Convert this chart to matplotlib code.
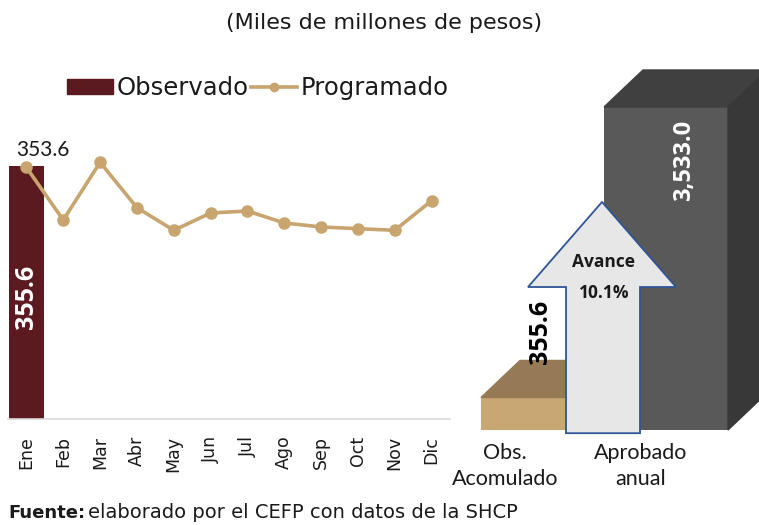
import matplotlib
matplotlib.use("Agg")
import matplotlib.pyplot as plt
from matplotlib.patches import Polygon, Patch
from matplotlib.lines import Line2D

# datos (miles de millones de pesos)
meses = ["Ene", "Feb", "Mar", "Abr", "May", "Jun", "Jul", "Ago", "Sep", "Oct", "Nov", "Dic"]
programado = [353.6, 279.7, 360.8, 297.0, 265.2, 289.5, 292.3, 275.5, 269.9, 267.5, 265.2, 306.8]
observado = [355.6]          # solo enero
obs_acumulado = 355.6
aprobado_anual = 3533.0

ROJO = "#5A1A1F"
ARENA = "#C8A46E"
TXT = "#1a1a1a"

fig = plt.figure(figsize=(7.59, 5.25), dpi=100)

fig.text(384 / 759, 1 - 23 / 525, "(Miles de millones de pesos)", ha="center", va="center",
         fontsize=16, color=TXT, family="DejaVu Sans")

# ---- panel izquierdo: mensual ----
ax = fig.add_axes([8 / 759, (525 - 419) / 525, 442 / 759, 284.6 / 525])
x = list(range(len(meses)))
ax.bar(x[:len(observado)], observado, width=0.93, color=ROJO, zorder=1)
ax.plot(x, programado, color=ARENA, lw=2.6, marker="o", ms=8, zorder=3)
ax.set_xlim(-0.5, 11.5)
ax.set_ylim(0, 400)
ax.set_yticks([])
for s in ["top", "right", "left"]:
    ax.spines[s].set_visible(False)
ax.spines["bottom"].set_color("#D9D9D9")
ax.spines["bottom"].set_linewidth(1.2)
ax.set_xticks(x)
ax.set_xticklabels(meses, rotation=90, fontsize=12.5, color=TXT, family="DejaVu Sans")
ax.tick_params(axis="x", length=0, pad=12)
ax.text(0, observado[0] / 2 - 6, f"{observado[0]:.1f}", rotation=90, ha="center", va="center",
        color="white", fontsize=18, fontweight="bold", family="Open Sans")
ax.text(0.45, programado[0] + 10, f"{programado[0]:.1f}", ha="center", va="bottom",
        fontsize=15, color=TXT, family="Lato")

handles = [Patch(facecolor=ROJO, edgecolor=ROJO),
           Line2D([0], [0], color=ARENA, lw=2.6, marker="o", ms=6)]
fig.legend(handles, ["Observado", "Programado"], loc="center", ncol=2,
           bbox_to_anchor=(258 / 759, 1 - 88 / 525), frameon=False,
           prop={"family": "DejaVu Sans", "size": 17.5}, handlelength=1.9,
           handleheight=0.6, handletextpad=0.15, columnspacing=0.1, labelcolor=TXT)

# ---- panel derecho: avance anual (barras con relieve) ----
axr = fig.add_axes([470 / 759, (525 - 430) / 525, 289 / 759, 390 / 525])
axr.set_xlim(470, 759)
axr.set_ylim(0, 4266)
axr.axis("off")
dx, dy = 39, 405


def barra(x0, w, h, cfront, ctop, cside):
    axr.bar(x0, h, width=w, align="edge", color=cfront, zorder=1)
    axr.add_patch(Polygon([(x0, h), (x0 + w, h), (x0 + w + dx, h + dy), (x0 + dx, h + dy)],
                          closed=True, color=ctop, zorder=1, clip_on=False))
    axr.add_patch(Polygon([(x0 + w, 0), (x0 + w + dx, dy), (x0 + w + dx, h + dy), (x0 + w, h)],
                          closed=True, color=cside, zorder=1, clip_on=False))


barra(481, 123, obs_acumulado, "#C9A772", "#957A55", "#8a7050")
barra(604, 124, aprobado_anual, "#595959", "#404040", "#383838")

flecha = [(566, -35), (640, -35), (640, 1564), (676, 1564), (602, 2494), (528, 1564), (566, 1564)]
axr.add_patch(Polygon(flecha, closed=True, facecolor="#E7E7E7", edgecolor="#2F5597",
                      lw=1.3, zorder=3, clip_on=False))
avance = obs_acumulado / aprobado_anual * 100
axr.text(604, 1840, "Avance", ha="center", va="center", fontsize=12.5, fontweight="bold",
         color=TXT, family="Open Sans", zorder=4)
axr.text(604, 1500, f"{avance:.1f}%", ha="center", va="center", fontsize=12.5,
         fontweight="bold", color=TXT, family="Open Sans", zorder=4)
axr.text(540, 1072, f"{obs_acumulado:.1f}", rotation=90, ha="center", va="center",
         fontsize=18, fontweight="bold", color="black", family="Open Sans", zorder=4)
axr.text(684, 2953, f"{aprobado_anual:,.1f}", rotation=90, ha="center", va="center",
         fontsize=17, fontweight="bold", color="white", family="Open Sans", zorder=4)

for cx, lab in [(505, "Obs.\nAcomulado"), (641, "Aprobado\nanual")]:
    fig.text(cx / 759, 1 - 466 / 525, lab, ha="center", va="center", fontsize=15.5,
             color=TXT, family="Lato", linespacing=1.35)

fig.text(8 / 759, 1 - 513 / 525, "Fuente:", ha="left", va="center", fontsize=13,
         fontweight="bold", color=TXT, family="DejaVu Sans")
fig.text(88 / 759, 1 - 513 / 525, "elaborado por el CEFP con datos de la SHCP",
         ha="left", va="center", fontsize=14, color=TXT, family="DejaVu Sans")

fig.savefig("out.png", dpi=100)
